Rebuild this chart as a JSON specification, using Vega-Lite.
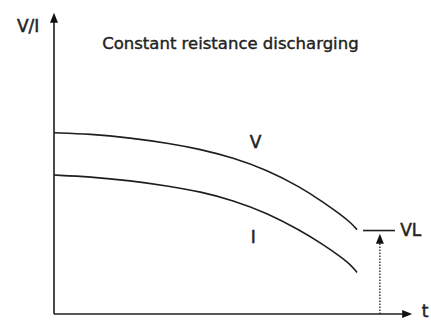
{
  "$schema": "https://vega.github.io/schema/vega-lite/v6.json",
  "width": 431,
  "height": 321,
  "autosize": {"type": "fit", "contains": "padding"},
  "padding": 0,
  "background": "white",
  "config": {"view": {"stroke": null}, "axis": {"disable": true}},
  "datasets": {
    "curves": [
      {"series": "V", "t": 0, "v": 61.0},
      {"series": "V", "t": 10.29, "v": 60.6},
      {"series": "V", "t": 21.71, "v": 59.3},
      {"series": "V", "t": 33.14, "v": 57.4},
      {"series": "V", "t": 41.71, "v": 55.5},
      {"series": "V", "t": 51.14, "v": 52.6},
      {"series": "V", "t": 60.86, "v": 48.5},
      {"series": "V", "t": 70.29, "v": 42.8},
      {"series": "V", "t": 77.0, "v": 37.6},
      {"series": "V", "t": 82.0, "v": 33.4},
      {"series": "V", "t": 85.0, "v": 30.5},
      {"series": "V", "t": 86.57, "v": 28.4},
      {"series": "I", "t": 0, "v": 46.77},
      {"series": "I", "t": 10.29, "v": 46.2},
      {"series": "I", "t": 21.71, "v": 44.9},
      {"series": "I", "t": 33.14, "v": 43.0},
      {"series": "I", "t": 41.71, "v": 41.2},
      {"series": "I", "t": 51.14, "v": 38.3},
      {"series": "I", "t": 60.86, "v": 34.0},
      {"series": "I", "t": 70.29, "v": 28.2},
      {"series": "I", "t": 77.0, "v": 23.3},
      {"series": "I", "t": 82.0, "v": 19.2},
      {"series": "I", "t": 85.0, "v": 16.3},
      {"series": "I", "t": 86.57, "v": 14.0}
    ],
    "solidRules": [
      {"name": "yaxis", "t": 0, "v": 0, "t2": 0, "v2": 99},
      {"name": "xaxis", "t": 0, "v": 0, "t2": 100, "v2": 0},
      {"name": "VL", "t": 88.3, "v": 28.1, "t2": 97.4, "v2": 28.1}
    ],
    "dottedRules": [
      {"name": "VLarrow", "t": 93.1, "v": 0, "t2": 93.1, "v2": 24.5}
    ],
    "arrowsUp": [
      {"name": "yaxis", "t": 0, "v": 99.7},
      {"name": "VLarrow", "t": 93.1, "v": 25.3}
    ],
    "arrowsRight": [
      {"name": "xaxis", "t": 100.9, "v": 0}
    ],
    "labels": [
      {"text": "V/I", "t": -7.4, "v": 96.7},
      {"text": "V", "t": 57.6, "v": 57.6},
      {"text": "I", "t": 56.9, "v": 25.7},
      {"text": "t", "t": 106.0, "v": 0.6}
    ],
    "leftLabels": [
      {"text": "VL", "t": 98.9, "v": 28.1}
    ],
    "title": [
      {"text": "Constant reistance discharging", "t": 50.4, "v": 90.7}
    ]
  },
  "layer": [
    {
      "data": {"name": "curves"},
      "mark": {"type": "line", "interpolate": "basis", "color": "#1e1e1e", "strokeWidth": 1.6},
      "encoding": {
        "x": {"field": "t", "type": "quantitative", "scale": {"domain": [-15.43, 107.71], "nice": false, "zero": false}},
        "y": {"field": "v", "type": "quantitative", "scale": {"domain": [-1.33, 105.67], "nice": false, "zero": false}},
        "detail": {"field": "series"}
      }
    },
    {
      "data": {"name": "solidRules"},
      "mark": {"type": "rule", "color": "#1e1e1e", "strokeWidth": 1.6},
      "encoding": {
        "x": {"field": "t", "type": "quantitative", "scale": {"domain": [-15.43, 107.71], "nice": false, "zero": false}},
        "y": {"field": "v", "type": "quantitative", "scale": {"domain": [-1.33, 105.67], "nice": false, "zero": false}},
        "x2": {"field": "t2"},
        "y2": {"field": "v2"}
      }
    },
    {
      "data": {"name": "dottedRules"},
      "mark": {"type": "rule", "color": "#1e1e1e", "strokeWidth": 1.3, "strokeDash": [1.5, 1.5]},
      "encoding": {
        "x": {"field": "t", "type": "quantitative", "scale": {"domain": [-15.43, 107.71], "nice": false, "zero": false}},
        "y": {"field": "v", "type": "quantitative", "scale": {"domain": [-1.33, 105.67], "nice": false, "zero": false}},
        "x2": {"field": "t2"},
        "y2": {"field": "v2"}
      }
    },
    {
      "data": {"name": "arrowsUp"},
      "mark": {"type": "point", "shape": "M0,-1L0.8,1L-0.8,1Z", "filled": true, "color": "#111", "opacity": 1, "size": 100},
      "encoding": {
        "x": {"field": "t", "type": "quantitative", "scale": {"domain": [-15.43, 107.71], "nice": false, "zero": false}},
        "y": {"field": "v", "type": "quantitative", "scale": {"domain": [-1.33, 105.67], "nice": false, "zero": false}}
      }
    },
    {
      "data": {"name": "arrowsRight"},
      "mark": {"type": "point", "shape": "M1,0L-1,-0.8L-1,0.8Z", "filled": true, "color": "#111", "opacity": 1, "size": 100},
      "encoding": {
        "x": {"field": "t", "type": "quantitative", "scale": {"domain": [-15.43, 107.71], "nice": false, "zero": false}},
        "y": {"field": "v", "type": "quantitative", "scale": {"domain": [-1.33, 105.67], "nice": false, "zero": false}}
      }
    },
    {
      "data": {"name": "labels"},
      "mark": {"type": "text", "font": "DejaVu Sans", "fontSize": 17, "color": "#222", "stroke": "#222", "strokeWidth": 0.5, "align": "center", "baseline": "middle"},
      "encoding": {
        "x": {"field": "t", "type": "quantitative", "scale": {"domain": [-15.43, 107.71], "nice": false, "zero": false}},
        "y": {"field": "v", "type": "quantitative", "scale": {"domain": [-1.33, 105.67], "nice": false, "zero": false}},
        "text": {"field": "text"}
      }
    },
    {
      "data": {"name": "leftLabels"},
      "mark": {"type": "text", "font": "DejaVu Sans", "fontSize": 17, "color": "#222", "stroke": "#222", "strokeWidth": 0.5, "align": "left", "baseline": "middle"},
      "encoding": {
        "x": {"field": "t", "type": "quantitative", "scale": {"domain": [-15.43, 107.71], "nice": false, "zero": false}},
        "y": {"field": "v", "type": "quantitative", "scale": {"domain": [-1.33, 105.67], "nice": false, "zero": false}},
        "text": {"field": "text"}
      }
    },
    {
      "data": {"name": "title"},
      "mark": {"type": "text", "font": "DejaVu Sans", "fontSize": 16.5, "color": "#222", "stroke": "#222", "strokeWidth": 0.4, "align": "center", "baseline": "middle"},
      "encoding": {
        "x": {"field": "t", "type": "quantitative", "scale": {"domain": [-15.43, 107.71], "nice": false, "zero": false}},
        "y": {"field": "v", "type": "quantitative", "scale": {"domain": [-1.33, 105.67], "nice": false, "zero": false}},
        "text": {"field": "text"}
      }
    }
  ]
}
